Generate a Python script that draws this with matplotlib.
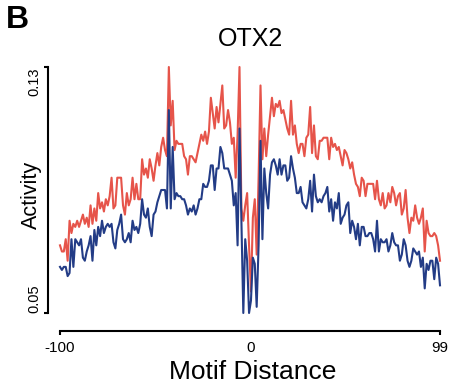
import numpy as np
import matplotlib
matplotlib.use("Agg")
import matplotlib.pyplot as plt

plt.rcParams['font.family'] = ['Liberation Sans', 'DejaVu Sans']

# motif distance -100 .. 99
distance = np.arange(-100, 100)

red = [
    0.072, 0.070, 0.070, 0.074, 0.067, 0.080, 0.076, 0.079, 0.078, 0.080,
    0.078, 0.080, 0.082, 0.079, 0.081, 0.078, 0.085, 0.079, 0.084, 0.080,
    0.089, 0.084, 0.086, 0.083, 0.087, 0.085, 0.088, 0.094, 0.084, 0.085,
    0.094, 0.094, 0.094, 0.085, 0.082, 0.089, 0.085, 0.087, 0.094, 0.087,
    0.092, 0.087, 0.087, 0.100, 0.095, 0.097, 0.094, 0.100, 0.097, 0.093,
    0.098, 0.102, 0.098, 0.104, 0.107, 0.103, 0.101, 0.130, 0.111, 0.119,
    0.103, 0.106, 0.105, 0.105, 0.105, 0.101, 0.100, 0.095, 0.101, 0.101,
    0.100, 0.099, 0.102, 0.105, 0.108, 0.106, 0.109, 0.105, 0.109, 0.120,
    0.115, 0.110, 0.117, 0.112, 0.118, 0.124, 0.110, 0.111, 0.116, 0.112,
    0.105, 0.107, 0.094, 0.108, 0.130, 0.084, 0.080, 0.085, 0.089, 0.072,
    0.057, 0.081, 0.087, 0.069, 0.094, 0.124, 0.100, 0.110, 0.101, 0.108,
    0.114, 0.120, 0.114, 0.118, 0.117, 0.119, 0.115, 0.116, 0.113, 0.110,
    0.108, 0.119, 0.108, 0.111, 0.105, 0.102, 0.105, 0.105, 0.101, 0.107,
    0.108, 0.117, 0.102, 0.111, 0.101, 0.100, 0.106, 0.106, 0.107, 0.107,
    0.107, 0.100, 0.107, 0.104, 0.105, 0.103, 0.104, 0.101, 0.098, 0.103,
    0.102, 0.100, 0.097, 0.099, 0.095, 0.092, 0.091, 0.088, 0.094, 0.093,
    0.088, 0.092, 0.092, 0.092, 0.092, 0.087, 0.093, 0.087, 0.085, 0.089,
    0.084, 0.085, 0.089, 0.086, 0.091, 0.089, 0.085, 0.088, 0.089, 0.082,
    0.084, 0.090, 0.081, 0.076, 0.081, 0.080, 0.085, 0.081, 0.079, 0.081,
    0.084, 0.070, 0.080, 0.076, 0.075, 0.075, 0.076, 0.075, 0.072, 0.067,
]

blue = [
    0.065, 0.064, 0.065, 0.065, 0.062, 0.063, 0.074, 0.065, 0.074, 0.073,
    0.072, 0.074, 0.068, 0.067, 0.070, 0.072, 0.075, 0.067, 0.077, 0.072,
    0.078, 0.075, 0.080, 0.076, 0.078, 0.079, 0.078, 0.079, 0.073, 0.071,
    0.077, 0.079, 0.082, 0.074, 0.073, 0.074, 0.076, 0.073, 0.080, 0.077,
    0.078, 0.076, 0.079, 0.087, 0.082, 0.081, 0.084, 0.078, 0.075, 0.082,
    0.083, 0.086, 0.088, 0.090, 0.090, 0.090, 0.084, 0.116, 0.084, 0.104,
    0.087, 0.089, 0.088, 0.088, 0.087, 0.087, 0.085, 0.082, 0.084, 0.083,
    0.085, 0.082, 0.084, 0.087, 0.087, 0.092, 0.091, 0.091, 0.093, 0.098,
    0.098, 0.090, 0.097, 0.097, 0.104, 0.102, 0.097, 0.097, 0.097, 0.095,
    0.093, 0.085, 0.089, 0.072, 0.110, 0.080, 0.050, 0.074, 0.067, 0.050,
    0.054, 0.068, 0.066, 0.052, 0.072, 0.106, 0.074, 0.097, 0.089, 0.084,
    0.095, 0.099, 0.100, 0.098, 0.095, 0.100, 0.095, 0.098, 0.098, 0.093,
    0.094, 0.101, 0.097, 0.094, 0.089, 0.089, 0.091, 0.086, 0.085, 0.084,
    0.087, 0.093, 0.083, 0.095, 0.088, 0.086, 0.087, 0.086, 0.088, 0.089,
    0.091, 0.083, 0.087, 0.080, 0.086, 0.084, 0.089, 0.079, 0.081, 0.082,
    0.085, 0.086, 0.076, 0.080, 0.078, 0.074, 0.079, 0.072, 0.078, 0.078,
    0.075, 0.075, 0.076, 0.076, 0.074, 0.070, 0.080, 0.070, 0.074, 0.073,
    0.073, 0.074, 0.070, 0.072, 0.076, 0.073, 0.072, 0.072, 0.067, 0.069,
    0.074, 0.072, 0.067, 0.065, 0.067, 0.071, 0.070, 0.069, 0.070, 0.065,
    0.068, 0.058, 0.066, 0.064, 0.067, 0.067, 0.061, 0.068, 0.066, 0.059,
]

xticks = [-100, 0, 99]
yticks = [0.05, 0.13]

W, H = 453, 391
fig = plt.figure(figsize=(W / 100, H / 100), dpi=100)
ax = fig.add_axes([60 / W, 1 - 313 / H, 380 / W, 246 / H])

ax.plot(distance, red, color='#E6544A', lw=1.5, clip_on=False)
ax.plot(distance, blue, color='#233C86', lw=1.5, clip_on=False)

ax.set_xlim(-100, 99)
ax.set_ylim(0.05, 0.13)

for s in ['top', 'right']:
    ax.spines[s].set_visible(False)
ax.spines['left'].set_position(('outward', 12 * 0.72))
ax.spines['bottom'].set_position(('outward', 18 * 0.72))
ax.spines['left'].set_bounds(0.05, 0.13)
ax.spines['bottom'].set_bounds(-100, 99)
ax.spines['left'].set_linewidth(1.5)
ax.spines['bottom'].set_linewidth(1.5)

ax.set_xticks(xticks, labels=[str(t) for t in xticks], fontsize=11)
ax.set_yticks(yticks, labels=['0.05', '0.13'], fontsize=10.5, rotation=90)
ax.tick_params(axis='x', length=3, width=1.5, pad=4)
ax.tick_params(axis='y', length=3, width=1.5, pad=1.5)
ax.xaxis.get_major_ticks()[1].tick1line.set_visible(False)
# labels sit inside the axis span, like the original
ylabs = ax.get_yticklabels()
ylabs[0].set_va('bottom')
ylabs[1].set_va('top')

fig.text(250 / W, 1 - 39 / H, 'OTX2', fontsize=18, ha='center', va='center')
fig.text(6 / W, 1 - 5 / H, 'B', fontsize=23, fontweight='bold', ha='left', va='top')
fig.text(31 / W, 1 - 195 / H, 'Activity', fontsize=15.5, rotation=90, ha='center', va='center')
fig.text(253 / W, 1 - 372 / H, 'Motif Distance', fontsize=19, ha='center', va='center')

fig.savefig('out.png', dpi=100)
